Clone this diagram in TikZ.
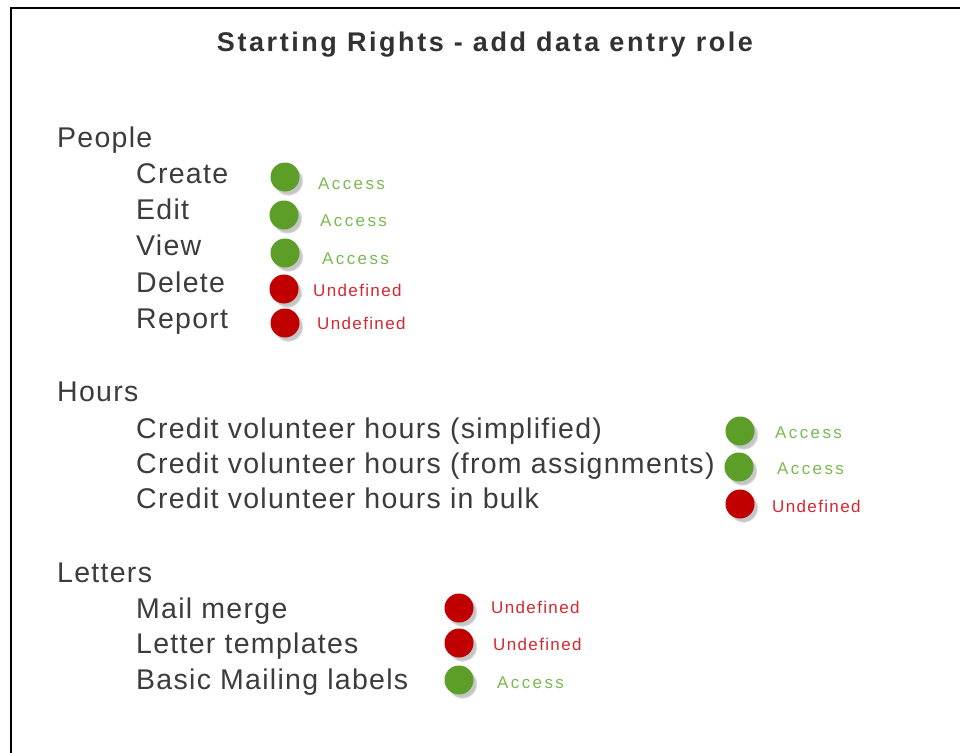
\documentclass[tikz,border=0pt]{standalone}
\usepackage{fontspec}
\setmainfont{Liberation Sans}
\newfontfamily\titlefont[LetterSpace=9.5]{Liberation Sans}
\newfontfamily\bodyfont[LetterSpace=4.5]{Liberation Sans}
\newfontfamily\accfont[LetterSpace=14]{Liberation Sans}
\newfontfamily\undfont[LetterSpace=8]{Liberation Sans}
\usetikzlibrary{shadows}
\definecolor{titlegray}{RGB}{50,50,50}
\definecolor{textgray}{RGB}{60,60,60}
\definecolor{dotgreen}{RGB}{92,158,40}
\definecolor{dotred}{RGB}{192,0,0}
\definecolor{accgreen}{RGB}{122,186,82}
\definecolor{undred}{RGB}{214,40,50}
\tikzset{
  frameline/.style={line width=2.2bp, black},
  titletext/.style={font=\titlefont\bfseries\fontsize{27bp}{32bp}\selectfont, text=titlegray, inner sep=0, anchor=base},
  cattext/.style={font=\bodyfont\fontsize{28.5bp}{34bp}\selectfont, text=textgray, inner sep=0, anchor=base west},
  itemtext/.style={cattext},
  dotbase/.style={circle, minimum size=29bp, inner sep=0, circular drop shadow={shadow xshift=3bp, shadow yshift=-3.5bp, opacity=0.45, shadow scale=1.05}},
  okdot/.style={dotbase, fill=dotgreen},
  nodot/.style={dotbase, fill=dotred},
  acclabel/.style={font=\accfont\fontsize{17bp}{20bp}\selectfont, text=accgreen, inner sep=0, anchor=base west},
  undlabel/.style={font=\undfont\fontsize{17bp}{20bp}\selectfont, text=undred, inner sep=0, anchor=base west},
}
\begin{document}
\begin{tikzpicture}[x=1bp, y=-1bp]
\useasboundingbox (0,0) rectangle (960,753);
\fill[white] (0,0) rectangle (960,753);
% frame
\coordinate (fTR) at (960,7.7);
\coordinate (fTL) at (11,7.7);
\coordinate (fBL) at (11,753);
\draw[frameline] (fTR) -- (fTL) -- (fBL);
% title
\node[titletext] (title) at (485,52) {Starting Rights - add data entry role};
% People
\node[cattext] (people) at (57,147) {People};
\node[itemtext] (create) at (136,183) {Create};
\node[itemtext] (edit) at (136,219) {Edit};
\node[itemtext] (view) at (136,255) {View};
\node[itemtext] (delete) at (136,292) {Delete};
\node[itemtext] (report) at (136,328) {Report};
\node[okdot] (dcreate) at (285,177) {};
\node[okdot] (dedit) at (284,215) {};
\node[okdot] (dview) at (285,253) {};
\node[nodot] (ddelete) at (284,289) {};
\node[nodot] (dreport) at (285,323) {};
\node[acclabel] (lcreate) at (318,189) {Access};
\node[acclabel] (ledit) at (320,226) {Access};
\node[acclabel] (lview) at (322,264) {Access};
\node[undlabel] (ldelete) at (313,296) {Undefined};
\node[undlabel] (lreport) at (317,329) {Undefined};
% Hours
\node[cattext] (hours) at (57,401) {Hours};
\node[itemtext] (h1) at (136,438) {Credit volunteer hours (simplified)};
\node[itemtext] (h2) at (136,473) {Credit volunteer hours (from assignments)};
\node[itemtext] (h3) at (136,508) {Credit volunteer hours in bulk};
\node[okdot] (dh1) at (740,431) {};
\node[okdot] (dh2) at (739,467) {};
\node[nodot] (dh3) at (740,504) {};
\node[acclabel] (lh1) at (775,438) {Access};
\node[acclabel] (lh2) at (777,474) {Access};
\node[undlabel] (lh3) at (772,512) {Undefined};
% Letters
\node[cattext] (letters) at (57,582) {Letters};
\node[itemtext] (l1) at (136,618) {Mail merge};
\node[itemtext] (l2) at (136,653) {Letter templates};
\node[itemtext] (l3) at (136,689) {Basic Mailing labels};
\node[nodot] (dl1) at (459,608) {};
\node[nodot] (dl2) at (459,643) {};
\node[okdot] (dl3) at (459,680) {};
\node[undlabel] (ll1) at (491,613) {Undefined};
\node[undlabel] (ll2) at (493,650) {Undefined};
\node[acclabel] (ll3) at (497,688) {Access};
\end{tikzpicture}
\end{document}
